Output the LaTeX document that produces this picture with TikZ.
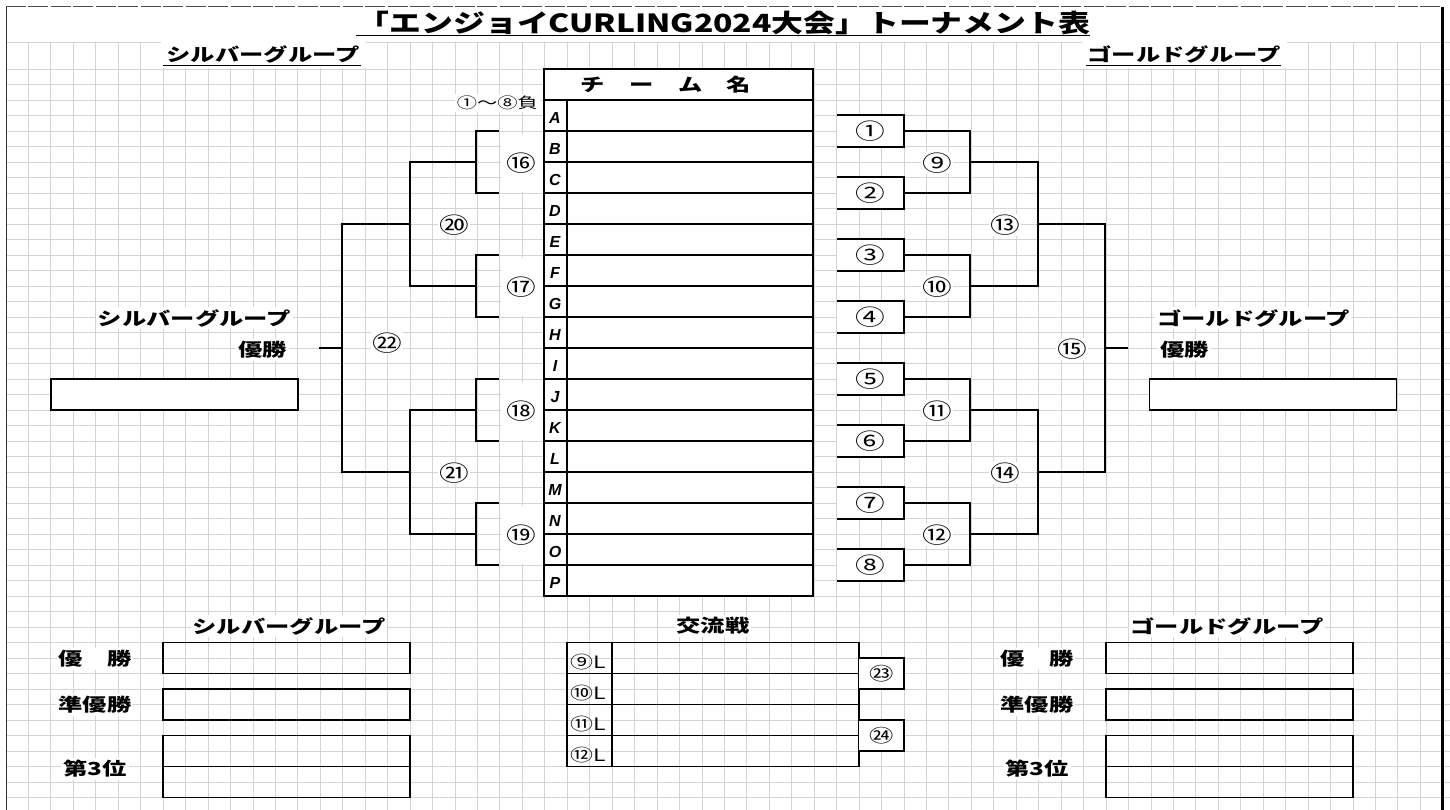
\documentclass[tikz,border=0pt]{standalone}
\usepackage{fontspec}
\usepackage{graphicx}
\usepackage{tikz}
\usetikzlibrary{positioning}
\newfontfamily\jp[FakeStretch=1.35]{Noto Sans CJK JP}
\newfontfamily\lat{Liberation Sans}
\definecolor{gridgray}{HTML}{D4D4D4}
\tikzset{gridline/.style = {draw=gridgray, line width=0.9pt}}
\tikzset{bline/.style = {line width=1.8pt}}
\tikzset{resline/.style = {line width=1.8pt}}
\tikzset{hdr/.style = {font={\jp\bfseries\fontsize{18}{18}\selectfont}, fill=white, inner sep=2pt}}
\tikzset{num/.style = {font={\jp\fontsize{22}{22}\selectfont}, fill=white, inner sep=1pt}}
\tikzset{letter/.style = {font={\lat\bfseries\itshape\fontsize{16}{16}\selectfont}, inner sep=0pt}}
\tikzset{matchbox/.style = {fill=white, minimum width=66.5pt, minimum height=31pt, inner sep=0pt, font={\jp\fontsize{22}{22}\selectfont}}}
\tikzset{winbox/.style = {draw, fill=white, line width=1.8pt, minimum width=247pt, minimum height=31pt}}

\begin{document}
\begin{tikzpicture}[x=1pt, y=-1pt]
          \useasboundingbox (0,0) rectangle (1450,810);
          \fill[white] (0,0) rectangle (1450,810);
          \foreach \k in {1,...,64} \draw[gridline] ({6+22.45*\k},42) -- ({6+22.45*\k},810);
          \draw[gridline] (6,42) -- (1450,42);
          \foreach \r in {0,...,48} \draw[gridline] (6,{69+15.5*\r}) -- (1450,{69+15.5*\r});

          \draw[black!70, line width=1pt, dash pattern=on 20pt off 2.45pt] (6,7) -- (1442,7);
          \draw[black!80, line width=1pt] (6,7) -- (6,810);
          \draw[line width=3pt] (1442,7) -- (1442,810);

          \node[font={\jp\bfseries\fontsize{25}{25}\selectfont}, inner sep=0pt] (title) at (724,23)
            {\resizebox{732pt}{\height}{「エンジョイCURLING2024大会」トーナメント表}};
          \draw[line width=1.5pt] (356,35.5) -- (1090,35.5);

          \node[hdr, minimum width=205pt, minimum height=26pt] (shead) at (263,55) {シルバーグループ};
          \draw[line width=1.2pt] (163,65.5) -- (361,65.5);
          \node[hdr, minimum width=205pt, minimum height=26pt] (ghead) at (1184,55) {ゴールドグループ};
          \draw[line width=1.2pt] (1086,65.5) -- (1281,65.5);

          \node[font={\jp\fontsize{15}{15}\selectfont}, fill=white, inner sep=2pt, anchor=east] (lose) at (540,103) {①～⑧負};

          \foreach \k/\c/\y in {16/⑯/163, 17/⑰/287, 18/⑱/411, 19/⑲/535}
            \node[num, minimum width=42pt, minimum height=58pt] (n\k) at (521.5,\y) {\c};

          \draw[line width=2pt, fill=white] (544,69) rectangle (813,596);
          \node[font={\jp\bfseries\fontsize{18}{18}\selectfont}] (thead) at (666,85) {チ　ー　ム　名};
          \draw[line width=1.6pt] (544,100) -- (813,100);
          \draw[line width=1.6pt] (567,100) -- (567,596);
          \foreach \i in {1,...,15} \draw[line width=1.5pt] (544,{100+31*\i}) -- (813,{100+31*\i});
          \foreach \t [count=\i from 0] in {A,B,C,D,E,F,G,H,I,J,K,L,M,N,O,P}
            \node[letter] (team\t) at (555,{118+31*\i}) {\t};

          \foreach \k/\c in {1/①,2/②,3/③,4/④,5/⑤,6/⑥,7/⑦,8/⑧} {
            \node[matchbox] (g\k) at (870.25,{131+62*(\k-1)}) {\c};
            \draw[bline] (g\k.north west) -- (g\k.north east) -- (g\k.south east) -- (g\k.south west);
            \coordinate (s\k) at (499,{131+62*(\k-1)});
          }

          \coordinate (j9) at (970,162);
          \coordinate (j10) at (970,286);
          \coordinate (j11) at (970,410);
          \coordinate (j12) at (970,534);
          \coordinate (j13) at (1038,224);
          \coordinate (j14) at (1038,472);
          \coordinate (j15) at (1105,348);
          \coordinate (gstub) at (1128,348);
          \draw[bline] (g1.east) -| (j9) |- (g2.east);
          \draw[bline] (g3.east) -| (j10) |- (g4.east);
          \draw[bline] (g5.east) -| (j11) |- (g6.east);
          \draw[bline] (g7.east) -| (j12) |- (g8.east);
          \draw[bline] (j9) -| (j13) |- (j10);
          \draw[bline] (j11) -| (j14) |- (j12);
          \draw[bline] (j13) -| (j15) |- (j14);
          \draw[bline] (j15) -- (gstub);

          \coordinate (j16) at (476,162);
          \coordinate (j17) at (476,286);
          \coordinate (j18) at (476,410);
          \coordinate (j19) at (476,534);
          \coordinate (j20) at (410,224);
          \coordinate (j21) at (410,472);
          \coordinate (j22) at (342,348);
          \coordinate (sstub) at (319,348);
          \draw[bline] (s1) -| (j16) |- (s2);
          \draw[bline] (s3) -| (j17) |- (s4);
          \draw[bline] (s5) -| (j18) |- (s6);
          \draw[bline] (s7) -| (j19) |- (s8);
          \draw[bline] (j16) -| (j20) |- (j17);
          \draw[bline] (j18) -| (j21) |- (j19);
          \draw[bline] (j20) -| (j22) |- (j21);
          \draw[bline] (j22) -- (sstub);

          \foreach \k/\c/\x/\y in {9/⑨/937/163, 10/⑩/937/287, 11/⑪/937/411, 12/⑫/937/535,
                                   13/⑬/1005/225, 14/⑭/1005/473, 15/⑮/1072/349,
                                   20/⑳/454/225, 21/㉑/454/473, 22/㉒/387/343}
            \node[num] (n\k) at (\x,\y) {\c};

          \node[hdr, anchor=east] (sgrp) at (293,318) {シルバーグループ};
          \node[hdr, anchor=east] (swon) at (289,350) {優勝};
          \node[winbox] (swin) at (174.5,394.5) {};
          \node[hdr, anchor=west] (ggrp) at (1155,318) {ゴールドグループ};
          \node[hdr, anchor=west] (gwon) at (1158,350) {優勝};
          \node[winbox] (gwin) at (1273,394.5) {};

          \node[hdr] (sres) at (289,626) {シルバーグループ};
          \node[hdr] (xhead) at (713,626) {交流戦};
          \node[hdr] (gres) at (1227,626) {ゴールドグループ};

          \foreach \x/\lx/\s in {163/95/s, 1106/1037/g} {
            \draw[resline] (\x,642.5) rectangle ++(247,31);
            \draw[resline] (\x,689) rectangle ++(247,31);
            \draw[resline] (\x,735.5) rectangle ++(247,62);
            \draw[resline] (\x,766.5) -- ++(247,0);
            \node[hdr] (\s first) at (\lx,659) {優　勝};
            \node[hdr] (\s second) at (\lx,705) {準優勝};
            \node[hdr] (\s third) at (\lx,769) {第3位};
          }

          \draw[resline] (567,642.5) rectangle (859,766.5);
          \draw[resline] (612,642.5) -- (612,766.5);
          \foreach \y in {673.5,704.5,735.5} \draw[resline] (567,\y) -- (859,\y);
          \foreach \c/\y [count=\i] in {⑨/662,⑩/693,⑪/724,⑫/755}
            \node[font={\jp\fontsize{17}{17}\selectfont}, anchor=west, inner sep=0pt] (xl\i) at (570,\y) {\c L};
          \foreach \k/\c/\y in {23/㉓/673.5, 24/㉔/735.5} {
            \node[matchbox, minimum width=44.5pt, font={\jp\fontsize{18}{18}\selectfont}] (x\k) at (881.25,\y) {\c};
            \draw[resline] (x\k.north west) -- (x\k.north east) -- (x\k.south east) -- (x\k.south west);
          }
        \end{tikzpicture}
\end{document}
